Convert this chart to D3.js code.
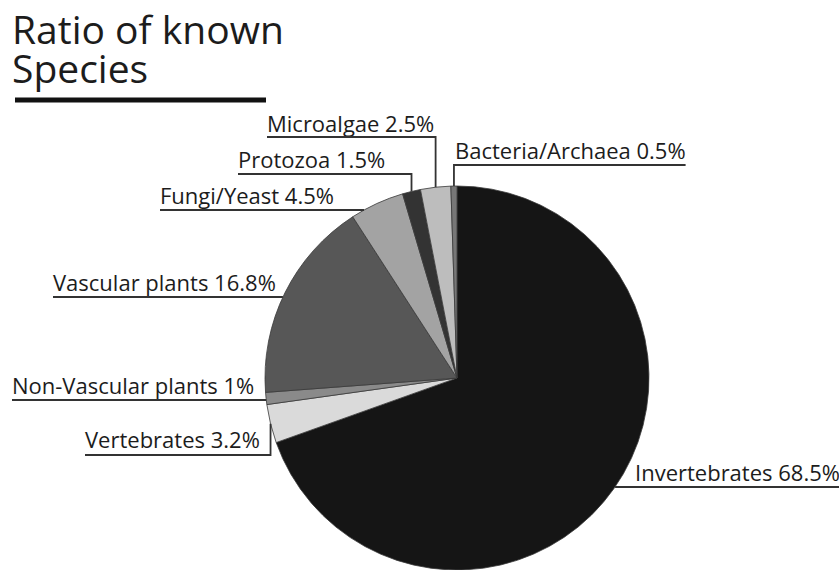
<!DOCTYPE html>
<html>
<head>
<meta charset="utf-8">
<script src="https://cdn.jsdelivr.net/npm/d3@7"></script>
<style>
  body { margin: 0; background: #fff; }
  text { font-family: "Open Sans", "Noto Sans", sans-serif; fill: #1c1c1c; }
</style>
</head>
<body>
<div id="chart-area"></div>
<script>
var width = 839;
var height = 570;

// data
var categories = ["Invertebrates", "Vertebrates", "Non-Vascular plants", "Vascular plants",
                  "Fungi/Yeast", "Protozoa", "Microalgae", "Bacteria/Archaea"];
var values = [68.5, 3.2, 1, 16.8, 4.5, 1.5, 2.5, 0.5];
var labels = ["Invertebrates 68.5%", "Vertebrates 3.2%", "Non-Vascular plants 1%", "Vascular plants 16.8%",
              "Fungi/Yeast 4.5%", "Protozoa 1.5%", "Microalgae 2.5%", "Bacteria/Archaea 0.5%"];
var shades = ["#151515", "#dadada", "#8a8a8a", "#575757", "#a3a3a3", "#333333", "#bdbdbd", "#777777"];
var titleLines = ["Ratio of known", "Species"];

// label layout: text start x, baseline, underline y, leader kind
var layout = [
  {x: 635, y: 481, uy: 487, side: "right", kind: "h"},
  {x: 85,  y: 448, uy: 455, side: "left",  kind: "v"},
  {x: 12,  y: 394, uy: 400, side: "left",  kind: "h"},
  {x: 53,  y: 291, uy: 297, side: "left",  kind: "h"},
  {x: 160, y: 204, uy: 210, side: "left",  kind: "h"},
  {x: 238, y: 168, uy: 174, side: "left",  kind: "v"},
  {x: 267, y: 132, uy: 137, side: "left",  kind: "v"},
  {x: 455, y: 159, uy: 165, side: "right", kind: "v"}
];

var cx = 457, cy = 378, r = 192;

var svg = d3.select("#chart-area").append("svg")
            .attr("width", width)
            .attr("height", height);

// title (one text, two lines)
var title = svg.append("text")
   .attr("x", 12)
   .attr("y", 44)
   .style("font-size", "39px");

title.selectAll("tspan")
   .data(titleLines)
   .enter()
   .append("tspan")
   .attr("x", 12)
   .attr("dy", function(d, i){ return i == 0 ? 0 : 39; })
   .text(function(d){ return d; });

svg.append("line")
   .attr("x1", 15).attr("x2", 266)
   .attr("y1", 100).attr("y2", 100)
   .attr("stroke", "#111")
   .attr("stroke-width", 5);

var pie = d3.pie().sort(null).value(function(d){ return d; });
var arc = d3.arc().innerRadius(0).outerRadius(r);
var arcs = pie(values);

var g = svg.append("g")
           .attr("transform", "translate(" + cx + "," + cy + ")");

g.selectAll("path")
 .data(arcs)
 .enter()
 .append("path")
 .attr("d", arc)
 .attr("fill", function(d, i){ return shades[i]; })
 .attr("stroke", "#3a3a3a")
 .attr("stroke-width", 0.8);

// labels + leaders
var lab = svg.append("g");

arcs.forEach(function(d, i){
  var L = layout[i];
  var t = lab.append("text")
     .attr("x", L.x)
     .attr("y", L.y)
     .style("font-size", "22px")
     .text(labels[i]);
  var tw = t.node().getComputedTextLength();

  var pts;
  if (L.kind == "h") {
    // run the underline until it meets the rim
    var dy = L.uy - cy;
    var dx = Math.sqrt(r * r - dy * dy);
    var rimX = L.side == "left" ? cx - dx : cx + dx;
    if (L.side == "left") {
      pts = [[L.x, L.uy], [rimX, L.uy]];
    } else {
      pts = [[rimX, L.uy], [L.x + tw, L.uy]];
    }
  } else {
    // drop a vertical line to the rim at the slice middle
    var mid = (d.startAngle + d.endAngle) / 2;
    var ax = cx + r * Math.sin(mid);
    var ay = cy - r * Math.cos(mid);
    if (L.side == "left") {
      pts = [[L.x, L.uy], [ax, L.uy], [ax, ay]];
    } else {
      pts = [[L.x + tw, L.uy], [ax, L.uy], [ax, ay]];
    }
  }

  lab.append("path")
     .attr("d", d3.line()(pts))
     .attr("fill", "none")
     .attr("stroke", "#333")
     .attr("stroke-width", 1.8);
});
</script>
</body>
</html>
